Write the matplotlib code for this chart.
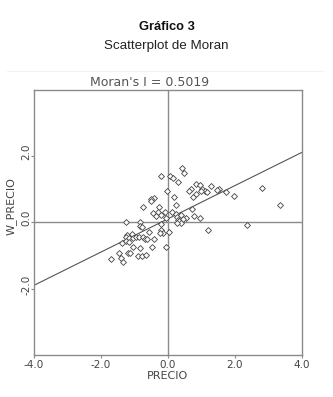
import matplotlib
matplotlib.use("Agg")
import matplotlib.pyplot as plt
from matplotlib.transforms import ScaledTranslation
import numpy as np

# Data
precio = [0.43, 0.48, -0.21, 0.06, 0.15, 0.32, 0.83, 0.95, 1.30, 1.52, 1.48, 0.70, 0.64,
          1.03, 1.11, 1.00, 1.17, 1.74, -0.01, 0.83, 0.75, 1.96, 0.19, -0.41, -0.49, -0.51,
          -0.75, 0.26, -0.26, 0.72, -0.09, 0.12, -0.44, -0.30, -0.19, -0.36, 0.25, -0.04,
          0.29, 0.38, 0.77, 0.97, 0.53, 0.45, 0.31, 0.35, 0.39, 0.28, -1.24, -0.82, -0.20,
          -0.84, -0.77, 2.36, 1.19, 0.04, -0.19, -0.15, -0.22, -0.55, -1.07, -1.21, -1.25,
          -1.14, -1.04, -0.96, -0.86, -0.73, -0.67, -0.62, -0.41, -1.24, -1.14, -1.37, -1.05,
          -0.84, -0.46, -0.06, -1.46, -1.19, -1.12, -0.90, -0.78, -0.65, -1.70, -1.40, -1.33,
          2.80, 3.34]
w_precio = [1.62, 1.47, 1.40, 1.40, 1.32, 1.20, 1.14, 1.12, 1.09, 1.01, 0.96, 0.99, 0.95,
            1.00, 0.95, 0.93, 0.90, 0.91, 0.93, 0.84, 0.77, 0.78, 0.76, 0.74, 0.69, 0.63,
            0.47, 0.52, 0.45, 0.39, 0.31, 0.32, 0.27, 0.31, 0.22, 0.18, 0.25, 0.12,
            0.17, 0.21, 0.20, 0.14, 0.12, 0.11, 0.07, 0.03, -0.02, -0.02, 0.01, 0.01, -0.05,
            -0.11, -0.15, -0.08, -0.23, -0.29, -0.23, -0.33, -0.33, -0.29, -0.35, -0.39, -0.45,
            -0.48, -0.47, -0.43, -0.44, -0.43, -0.49, -0.50, -0.49, -0.57, -0.61, -0.64, -0.75,
            -0.79, -0.75, -0.75, -0.92, -0.92, -0.94, -1.01, -1.01, -0.98, -1.10, -1.09, -1.19,
            1.02, 0.52]
morans_i = 0.5019
intercept = 0.10
x_ticks = [-4.0, -2.0, 0.0, 2.0, 4.0]
y_ticks = [-2.0, 0.0, 2.0]

fig = plt.figure(figsize=(3.33, 3.97), dpi=100)
fig.patch.set_facecolor("white")

fig.text(0.5, 1 - 27 / 397, "Gráfico 3", ha="center", va="center",
         fontsize=9.3, fontweight="bold", family="Liberation Sans", color="#111111")
fig.text(0.5, 1 - 46 / 397, "Scatterplot de Moran", ha="center", va="center",
         fontsize=9.6, family="Liberation Sans", color="#222222")
fig.add_artist(plt.Line2D([0.02, 0.97], [1 - 70.5 / 397] * 2, color="#f2f2f2", lw=0.8))

ax = fig.add_axes([33.5 / 333, 42 / 397, 268.5 / 333, 265.5 / 397])
gray = "#8a8a8a"
ax.set_xlim(-4, 4)
ax.set_ylim(-4, 4)
ax.axvline(0, color=gray, lw=1.0)
ax.axhline(0, color=gray, lw=1.0)

xs = np.array([-4, 4])
ax.plot(xs, intercept + morans_i * xs, color="#555555", lw=0.8)
ax.scatter(precio, w_precio, marker="D", s=9, facecolors="white",
           edgecolors="#444444", linewidths=0.6, zorder=3)

for s in ax.spines.values():
    s.set_color(gray)
    s.set_linewidth(1.0)

ax.set_xticks(x_ticks)
ax.set_xticklabels([f"{v:.1f}" for v in x_ticks])
ax.set_yticks(y_ticks)
ax.set_yticklabels([f"{v:.1f}" for v in y_ticks], rotation=90, va="center")
ax.tick_params(axis="x", length=2, color=gray, labelsize=7.5, labelcolor="#444444", pad=1.5)
ax.tick_params(axis="y", length=2, color=gray, labelsize=7.5, labelcolor="#444444", pad=0)
for lab in ax.get_yticklabels():
    lab.set_transform(lab.get_transform() + ScaledTranslation(0.01, 0.04, fig.dpi_scale_trans))

ax.set_xlabel("PRECIO", fontsize=8, color="#444444", labelpad=1)
ax.set_ylabel("W_PRECIO", fontsize=8, color="#444444")
ax.yaxis.set_label_coords(-0.061, 0.561)
ax.set_title(f"Moran's I = {morans_i:.4f}", fontsize=9, color="#555555",
             x=(150 - 33.5) / 268.5, pad=2)

fig.savefig("out.png", dpi=100, facecolor="white")
